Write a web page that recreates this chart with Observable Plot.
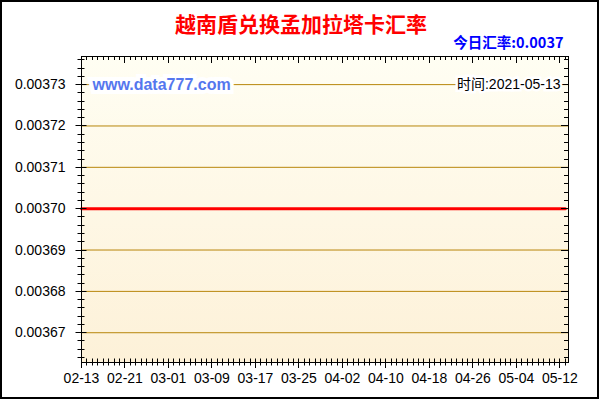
<!DOCTYPE html>
<html>
<head>
<meta charset="utf-8">
<script src="https://cdn.jsdelivr.net/npm/d3@7"></script>
<script src="https://cdn.jsdelivr.net/npm/@observablehq/plot@0.6"></script>
<style>
  html, body { margin: 0; padding: 0; background: #fff; }
  svg { display: block; }
</style>
</head>
<body>
<div id="chart"></div>
<script>
const title = "越南盾兑换孟加拉塔卡汇率";
const todayLabel = "今日汇率:0.0037";
const watermark = "www.data777.com";
const timeLabel = "时间:2021-05-13";

const dates = [
  "2021-02-13","2021-02-14","2021-02-15","2021-02-16","2021-02-17","2021-02-18","2021-02-19","2021-02-20",
  "2021-02-21","2021-02-22","2021-02-23","2021-02-24","2021-02-25","2021-02-26","2021-02-27","2021-02-28",
  "2021-03-01","2021-03-02","2021-03-03","2021-03-04","2021-03-05","2021-03-06","2021-03-07","2021-03-08",
  "2021-03-09","2021-03-10","2021-03-11","2021-03-12","2021-03-13","2021-03-14","2021-03-15","2021-03-16",
  "2021-03-17","2021-03-18","2021-03-19","2021-03-20","2021-03-21","2021-03-22","2021-03-23","2021-03-24",
  "2021-03-25","2021-03-26","2021-03-27","2021-03-28","2021-03-29","2021-03-30","2021-03-31","2021-04-01",
  "2021-04-02","2021-04-03","2021-04-04","2021-04-05","2021-04-06","2021-04-07","2021-04-08","2021-04-09",
  "2021-04-10","2021-04-11","2021-04-12","2021-04-13","2021-04-14","2021-04-15","2021-04-16","2021-04-17",
  "2021-04-18","2021-04-19","2021-04-20","2021-04-21","2021-04-22","2021-04-23","2021-04-24","2021-04-25",
  "2021-04-26","2021-04-27","2021-04-28","2021-04-29","2021-04-30","2021-05-01","2021-05-02","2021-05-03",
  "2021-05-04","2021-05-05","2021-05-06","2021-05-07","2021-05-08","2021-05-09","2021-05-10","2021-05-11",
  "2021-05-12","2021-05-13"
];
const rates = [
  0.0037,0.0037,0.0037,0.0037,0.0037,0.0037,0.0037,0.0037,0.0037,0.0037,
  0.0037,0.0037,0.0037,0.0037,0.0037,0.0037,0.0037,0.0037,0.0037,0.0037,
  0.0037,0.0037,0.0037,0.0037,0.0037,0.0037,0.0037,0.0037,0.0037,0.0037,
  0.0037,0.0037,0.0037,0.0037,0.0037,0.0037,0.0037,0.0037,0.0037,0.0037,
  0.0037,0.0037,0.0037,0.0037,0.0037,0.0037,0.0037,0.0037,0.0037,0.0037,
  0.0037,0.0037,0.0037,0.0037,0.0037,0.0037,0.0037,0.0037,0.0037,0.0037,
  0.0037,0.0037,0.0037,0.0037,0.0037,0.0037,0.0037,0.0037,0.0037,0.0037,
  0.0037,0.0037,0.0037,0.0037,0.0037,0.0037,0.0037,0.0037,0.0037,0.0037,
  0.0037,0.0037,0.0037,0.0037,0.0037,0.0037,0.0037,0.0037,0.0037,0.0037
];
const xTickLabels = ["02-13","02-21","03-01","03-09","03-17","03-25","04-02","04-10","04-18","04-26","05-04","05-12"];
const yTicks = [0.00367, 0.00368, 0.00369, 0.00370, 0.00371, 0.00372, 0.00373];

const data = dates.map((d, i) => ({date: new Date(d), rate: rates[i]}));
const xMajor = xTickLabels.map(s => new Date("2021-" + s));
const xMinor = data.map(d => d.date);
const yMinor = d3.range(3664, 3737, 2).map(v => v / 1e6);

const font = "Arial, 'Liberation Sans', sans-serif";
const cjk = "'Noto Sans CJK SC', 'Microsoft YaHei', sans-serif";
const mixed = "Arial, 'Liberation Sans', 'Noto Sans CJK SC', sans-serif";

function background(index, scales, values, dim) {
  const g = d3.create("svg:g");
  const grad = g.append("defs").append("linearGradient")
    .attr("id", "bgGrad").attr("x1", 0).attr("y1", 0).attr("x2", 0).attr("y2", 1);
  grad.append("stop").attr("offset", "0%").attr("stop-color", "#FFFEF3");
  grad.append("stop").attr("offset", "100%").attr("stop-color", "#FDF1D8");
  g.append("rect")
    .attr("x", dim.marginLeft).attr("y", dim.marginTop)
    .attr("width", dim.width - dim.marginLeft - dim.marginRight)
    .attr("height", dim.height - dim.marginTop - dim.marginBottom)
    .attr("fill", "url(#bgGrad)");
  return g.node();
}

// tick marks drawn through the plot's x and y scales
function tickMarks(index, scales, values, dim) {
  const {x, y} = scales;
  const L = dim.marginLeft, R = dim.width - dim.marginRight;
  const T = dim.marginTop, B = dim.height - dim.marginBottom;
  const majY = new Set(yTicks.map(v => v.toFixed(6)));
  const majX = new Set(xMajor.map(d => +d));
  let p = "";
  for (const v of yMinor) {
    const yy = Math.round(y(v)) + 0.5;
    const big = majY.has(v.toFixed(6));
    p += `M${L - (big ? 5.5 : 3.5)},${yy}H${L + (big ? 5.5 : 3.5)}`;
    p += `M${R - (big ? 7 : 4)},${yy}H${R}`;
  }
  for (const d of xMinor) {
    const xx = Math.round(x(d)) + 0.5;
    const big = majX.has(+d);
    p += `M${xx},${B - 3.5}V${B + (big ? 6 : 3.5)}`;
    p += `M${xx},${T}V${T + (big ? 7 : 4)}`;
  }
  const g = d3.create("svg:g");
  g.append("path").attr("d", p).attr("stroke", "#000").attr("stroke-width", 1).attr("fill", "none");
  return g.node();
}

function outerBorder(index, scales, values, dim) {
  const g = d3.create("svg:g");
  g.append("rect").attr("x", 1).attr("y", 1)
    .attr("width", dim.width - 3).attr("height", dim.height - 3)
    .attr("fill", "none").attr("stroke", "#000").attr("stroke-width", 2);
  return g.node();
}

const chart = Plot.plot({
  width: 600,
  height: 400,
  marginLeft: 81,
  marginRight: 32,
  marginTop: 56,
  marginBottom: 38,
  style: {fontFamily: font, fontSize: "14px", background: "#fff", color: "#000", overflow: "visible"},
  x: {
    type: "utc",
    domain: [new Date("2021-02-13"), new Date("2021-05-13T14:00")],
    ticks: xMajor,
    tickFormat: d => d3.utcFormat("%m-%d")(d),
    tickSize: 0,
    tickPadding: 11,
    label: null
  },
  y: {
    domain: [0.0036628, 0.0037368],
    ticks: yTicks,
    tickFormat: d => d.toFixed(5),
    tickSize: 0,
    tickPadding: 16,
    label: null
  },
  marks: [
    background,
    Plot.ruleY(yTicks, {stroke: "#B8860B", strokeWidth: 1}),
    Plot.line(data, {x: "date", y: "rate", stroke: "#FF0000", strokeWidth: 3}),
    Plot.frame({stroke: "#000", strokeWidth: 1}),
    tickMarks,
    Plot.text([watermark], {frameAnchor: "top-left", dx: 11, dy: 28, textAnchor: "start", lineAnchor: "middle",
      fontSize: 16, fontWeight: "bold", fill: "#5577EE", stroke: "#fff", strokeWidth: 8, strokeLinejoin: "miter",
      fontFamily: font}),
    Plot.text([timeLabel], {frameAnchor: "top-right", dx: -8, dy: 28, textAnchor: "end", lineAnchor: "middle",
      fontSize: 14, fill: "#000", stroke: "#fff", strokeWidth: 5, strokeLinejoin: "miter",
      fontFamily: mixed}),
    Plot.text([title], {frameAnchor: "top", dx: -24, dy: -31, textAnchor: "middle", lineAnchor: "middle",
      fontSize: 21, fontWeight: "bold", fill: "#FF0000", fontFamily: cjk}),
    Plot.text([todayLabel], {frameAnchor: "top-right", dx: -5, dy: -13, textAnchor: "end", lineAnchor: "middle",
      fontSize: 14.5, fontWeight: "bold", fill: "#0000FF", fontFamily: cjk}),
    outerBorder
  ]
});
document.getElementById("chart").appendChild(chart);
</script>
</body>
</html>
